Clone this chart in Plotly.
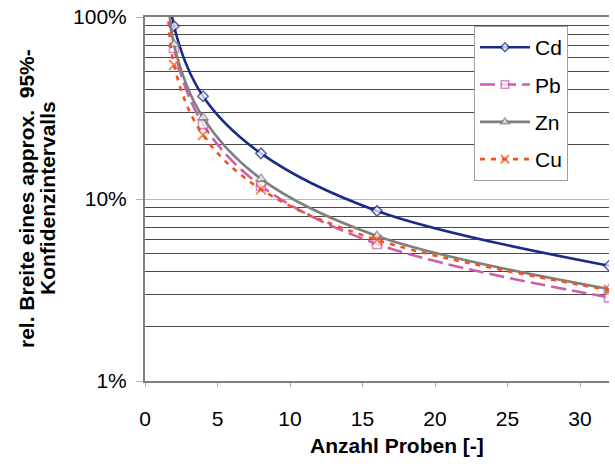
import plotly.graph_objects as go

# Anzahl Proben (sample count); first entry lies above the 100 % limit
proben = [1.5, 2, 4, 8, 16, 32]

# relative width of the approx. 95 % confidence interval, in %
cd = [250, 89.2, 36.7, 17.8, 8.6, 4.3]
pb = [210, 67.6, 25.8, 11.8, 5.66, 2.88]
zn = [220, 70.8, 28.0, 12.9, 6.27, 3.2]
cu = [190, 54.5, 22.5, 11.3, 5.96, 3.16]

series = [
    ("Cd", cd, "#1B2A8A", "solid", "diamond", 8, "white"),
    ("Pb", pb, "#CC5EAE", "15px,6px", "square", 9, "white"),
    ("Zn", zn, "#7F7F7F", "solid", "triangle-up", 9, "white"),
    ("Cu", cu, "#F4511E", "5px,6px", "x-thin", 10, None),
]

FONT = "Arial, Liberation Sans, sans-serif"

fig = go.Figure()
for name, vals, color, dash, symbol, size, fill in series:
    # no marker on the point that sits above the axis range
    sizes = [0] + [size] * (len(proben) - 1)
    marker = dict(symbol=symbol, size=sizes, line=dict(color=color, width=1.6))
    marker["color"] = fill if fill else color
    if symbol == "x-thin":
        marker["line"]["width"] = 2
    fig.add_trace(go.Scatter(
        x=proben, y=vals, name=name, mode="lines+markers",
        line=dict(color=color, width=2.6, dash=dash, shape="spline", smoothing=1),
        marker=marker, legendgroup=name,
    ))

fig.update_layout(
    width=615, height=464,
    margin=dict(l=145, r=6, t=17, b=83),
    paper_bgcolor="white", plot_bgcolor="white",
    font=dict(family=FONT, size=21, color="black"),
    showlegend=True,
    legend=dict(
        x=0.709, y=0.975, xanchor="left", yanchor="top",
        bgcolor="white", bordercolor="#A0A0A0", borderwidth=1,
        font=dict(size=21), traceorder="grouped", tracegroupgap=7,
        itemwidth=50,
    ),
    xaxis=dict(
        range=[0, 32], tickvals=[0, 5, 10, 15, 20, 25, 30],
        showgrid=False, zeroline=False,
        showline=True, linecolor="#808080", linewidth=2, mirror=True,
        ticks="outside", ticklen=4, tickcolor="#B0B0B0", tickwidth=1,
        ticklabelstandoff=14,
    ),
    yaxis=dict(
        type="log", range=[0, 2],
        tickvals=[1, 10, 100], ticktext=["1%", "10%", "100%"],
        showgrid=True, gridcolor="#B8B8B8", gridwidth=1,
        zeroline=False,
        showline=True, linecolor="#808080", linewidth=2,
        ticks="outside", ticklen=7, tickcolor="#B0B0B0", tickwidth=1,
        ticklabelstandoff=5,
        minor=dict(
            tickvals=[m * d for d in (1, 10) for m in range(2, 10)],
            showgrid=True, gridcolor="#4A4A4A", gridwidth=1, ticks="",
        ),
    ),
    annotations=[
        dict(text="<b>Anzahl Proben [-]</b>", xref="paper", yref="paper",
             x=(397 - 145) / 464, y=-(445 - 381) / 364,
             xanchor="center", yanchor="middle", showarrow=False,
             font=dict(size=21)),
        dict(text="<b>rel. Breite eines approx.  95%-</b>", xref="paper", yref="paper",
             x=-(145 - 26) / 464, y=(381 - 198) / 364, textangle=-90,
             xanchor="center", yanchor="middle", showarrow=False,
             font=dict(size=21)),
        dict(text="<b>Konfidenzintervalls</b>", xref="paper", yref="paper",
             x=-(145 - 47) / 464, y=(381 - 198) / 364, textangle=-90,
             xanchor="center", yanchor="middle", showarrow=False,
             font=dict(size=21)),
    ],
)

fig.write_html("out.html")
